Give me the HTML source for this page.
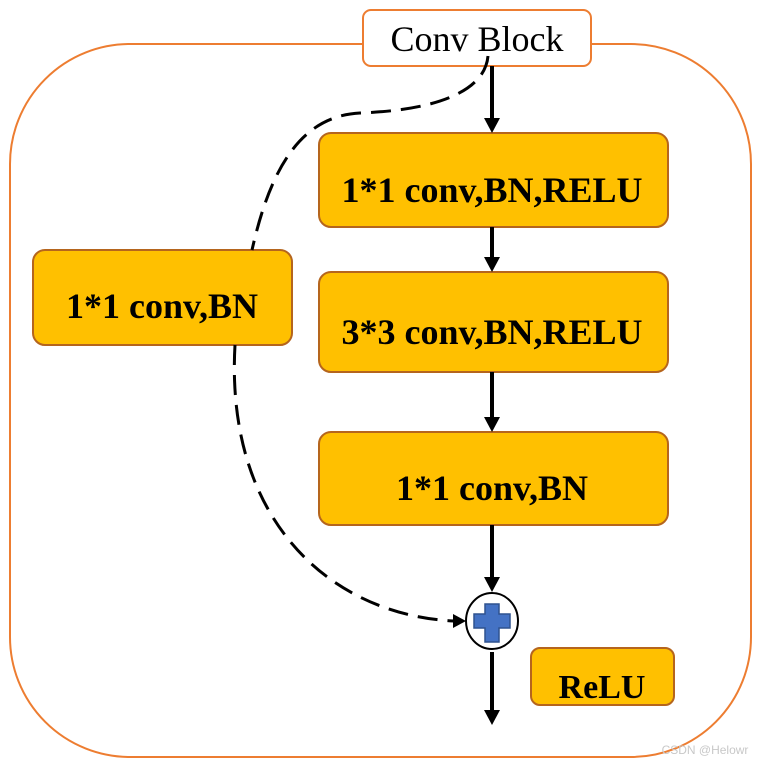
<!DOCTYPE html>
<html><head><meta charset="utf-8"><style>
html,body{margin:0;padding:0;background:#fff;}
svg{display:block;}
text{font-family:"Liberation Serif",serif;}
</style></head><body>
<svg width="763" height="765" viewBox="0 0 763 765" xmlns="http://www.w3.org/2000/svg">
<rect x="10" y="44" width="741" height="713" rx="120" ry="120" fill="#fff" stroke="#ED7D31" stroke-width="2"/>
<rect x="363" y="10" width="228" height="56" rx="8" fill="#fff" stroke="#ED7D31" stroke-width="2"/>
<text x="477" y="51" font-size="36" text-anchor="middle">Conv Block</text>

<g fill="#FFC000" stroke="#B5651D" stroke-width="2">
<rect x="319" y="133" width="349" height="94" rx="12"/>
<rect x="319" y="272" width="349" height="100" rx="12"/>
<rect x="319" y="432" width="349" height="93" rx="12"/>
<rect x="33" y="250" width="259" height="95" rx="12"/>
<rect x="531" y="648" width="143" height="57" rx="9"/>
</g>
<g font-size="36" font-weight="bold" text-anchor="middle">
<text x="492" y="202">1*1 conv,BN,RELU</text>
<text x="492" y="344">3*3 conv,BN,RELU</text>
<text x="492" y="500">1*1 conv,BN</text>
<text x="162" y="318">1*1 conv,BN</text>
<text x="602" y="698" font-size="34">ReLU</text>
</g>

<g stroke="#000" stroke-width="4" fill="none">
<line x1="492" y1="66" x2="492" y2="121"/>
<line x1="492" y1="227" x2="492" y2="260"/>
<line x1="492" y1="372" x2="492" y2="420"/>
<line x1="492" y1="525" x2="492" y2="580"/>
<line x1="492" y1="652" x2="492" y2="713"/>
</g>
<g fill="#000">
<path d="M484,118 L500,118 L492,133 z"/>
<path d="M484,257 L500,257 L492,272 z"/>
<path d="M484,417 L500,417 L492,432 z"/>
<path d="M484,577 L500,577 L492,592 z"/>
<path d="M484,710 L500,710 L492,725 z"/>
<path d="M453,614 L466,621 L453,628 z"/>
</g>

<g stroke="#000" stroke-width="3" fill="none" stroke-dasharray="20,10">
<path d="M488,56 C485,90 440,110 360,113 C300,116 270,170 252,250"/>
<path d="M235,345 C225,520 330,615 454,621"/>
</g>

<ellipse cx="492" cy="621" rx="26" ry="28" fill="#fff" stroke="#000" stroke-width="2"/>
<path d="M485,604 H499 V614 H510 V628 H499 V642 H485 V628 H474 V614 H485 Z" fill="#4472C4" stroke="#2F528F" stroke-width="1.5"/>

<text x="705" y="754" font-size="12" fill="#c8c8c8" text-anchor="middle" style="font-family:'Liberation Sans',sans-serif">CSDN @Helowr</text>
</svg>
</body></html>
